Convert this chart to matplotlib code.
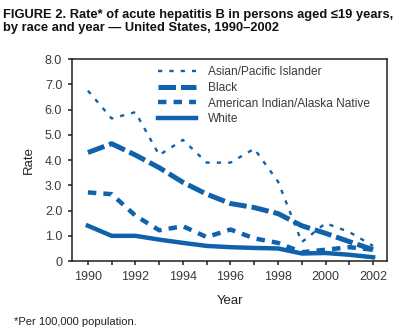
import matplotlib
matplotlib.use("Agg")
from matplotlib import pyplot as plt
from matplotlib.ticker import FuncFormatter

plt.rcParams['font.family'] = ['Liberation Sans', 'DejaVu Sans']

years = list(range(1990, 2003))
asian = [6.75, 5.65, 5.9, 4.2, 4.8, 3.9, 3.9, 4.45, 3.15, 0.75, 1.5, 1.15, 0.6]
black = [4.3, 4.65, 4.2, 3.7, 3.12, 2.65, 2.28, 2.12, 1.88, 1.4, 1.1, 0.77, 0.45]
aian = [2.72, 2.65, 1.8, 1.22, 1.38, 0.95, 1.25, 0.9, 0.72, 0.35, 0.45, 0.55, 0.45]
white = [1.4, 1.0, 1.0, 0.85, 0.72, 0.6, 0.55, 0.52, 0.5, 0.3, 0.32, 0.25, 0.15]

blue = '#1062ac'
ink = '#231f20'

fig = plt.figure(figsize=(4.02, 3.36), dpi=100)
ax = fig.add_axes([0.179, 0.223, 0.784, 0.601])

ax.plot(years, asian, color=blue, lw=1.7, dashes=(1.8, 3.0), label='Asian/Pacific Islander')
ax.plot(years, black, color=blue, lw=3.6, dashes=(3.5, 1.0), label='Black')
ax.plot(years, aian, color=blue, lw=3.2, dashes=(1.9, 1.6), label='American Indian/Alaska Native')
ax.plot(years, white, color=blue, lw=3.2, label='White')

ax.set_xlim(1989.33, 2002.59)
ax.set_ylim(0, 8)
ax.set_xticks(years)
ax.set_xticklabels([str(y) if y % 2 == 0 else '' for y in years])
ax.set_yticks(range(0, 9))
ax.yaxis.set_major_formatter(FuncFormatter(lambda v, p: '0' if v == 0 else '%.1f' % v))

for s in ax.spines.values():
    s.set_color(ink)
    s.set_linewidth(1.1)
ax.tick_params(direction='out', length=3, width=1.1, color=ink,
               labelsize=9, labelcolor='#3a3a3a', pad=4)

ax.set_ylabel('Rate', fontsize=9.5, color='#222222', labelpad=7)
ax.set_xlabel('Year', fontsize=9.5, color='#222222', labelpad=9)

leg = ax.legend(loc='upper left', bbox_to_anchor=(0.245, 1.005), frameon=False,
                fontsize=8.6, handlelength=3.2, handletextpad=1.0,
                labelspacing=0.3, borderaxespad=0.3)
for t in leg.get_texts():
    t.set_color('#3a3a3a')

fig.text(0.008, 0.972, 'FIGURE 2. Rate* of acute hepatitis B in persons aged \u226419 years,\n'
         'by race and year \u2014 United States, 1990\u20132002',
         ha='left', va='top', fontsize=9.3, fontweight='bold', color='#111111',
         linespacing=1.1)
fig.text(0.035, 0.028, '*Per 100,000 population.', ha='left', va='bottom',
         fontsize=8, color='#222222')

fig.savefig('out.png', dpi=100)
